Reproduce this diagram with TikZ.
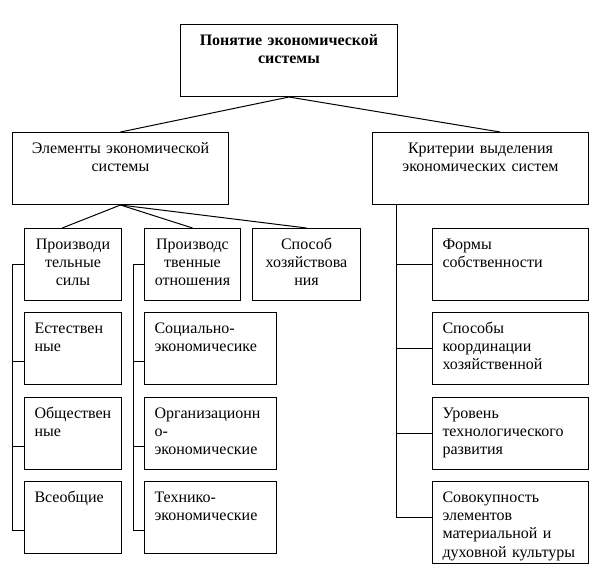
\documentclass[tikz,border=0pt]{standalone}
\usepackage{fontspec}
\setmainfont{Liberation Serif}
\usetikzlibrary{calc}

\begin{document}
\begin{tikzpicture}[x=0.75pt,y=-0.75pt,line width=0.75pt]
\tikzstyle{cell}=[rectangle, draw, anchor=north west, inner xsep=7.5pt, inner ysep=0pt,
    text height=15.5pt, text depth=38.5pt, font=\fontsize{12}{13.75}\selectfont]

\useasboundingbox (0,0) rectangle (612,565);

% top level
\node[cell, text width=147.75pt, align=center,
    font=\fontsize{12}{13.75}\selectfont\bfseries] (top) at (180,24) {Понятие экономической\\системы};
\node[cell, text width=147pt, align=center] (el) at (12,132) {Элементы экономической\\системы};
\node[cell, text width=147pt, align=center] (kr) at (372,132) {Критерии выделения\\экономических систем};

% elements
\node[cell, text width=57.75pt, align=center] (p1) at (24,228) {Производи\\тельные\\силы};
\node[cell, text width=57.75pt, align=left] (p2) at (24,312) {Естествен\\ные};
\node[cell, text width=57.75pt, align=left] (p3) at (24,397) {Обществен\\ные};
\node[cell, text width=57.75pt, align=left] (p4) at (24,481) {Всеобщие};

\node[cell, text width=57pt, align=center] (o1) at (144,228) {Производс\\твенные\\отношения};
\node[cell, text width=84pt, align=left] (o2) at (144,312) {Социально-\\экономичесике};
\node[cell, text width=84pt, align=left] (o3) at (144,397) {Организационн\\о-\\экономические};
\node[cell, text width=84pt, align=left] (o4) at (144,481) {Технико-\\экономические};

\node[cell, text width=66pt, align=center] (sp) at (252,228) {Способ\\хозяйствова\\ния};

% criteria
\node[cell, text width=102pt, align=left] (k1) at (432,228) {Формы\\собственности};
\node[cell, text width=102pt, align=left] (k2) at (432,312) {Способы\\координации\\хозяйственной};
\node[cell, text width=102pt, align=left] (k3) at (432,397) {Уровень\\технологического\\развития};
\node[cell, text width=102pt, align=left, text depth=46pt] (k4) at (432,481) {Совокупность\\элементов\\материальной и\\духовной культуры};

% tree lines
\draw (top.south) -- (el.north);
\draw (top.south) -- ($(kr.north west)!0.59!(kr.north east)$);
\draw (el.south) -- ($(p1.north west)!0.39!(p1.north east)$);
\draw (el.south) -- (o1.north);
\draw (el.south) -- (sp.north);

% brackets
\coordinate (pa) at ($(p1.west)+(-12,0)$);
\coordinate (oa) at ($(o1.west)+(-11,0)$);
\draw (p1.west) -- (pa);
\draw (o1.west) -- (oa);
\foreach \n in {2,3,4}{
    \coordinate (pt\n) at ($(p\n.north west)!0.68!(p\n.south west)$);
    \coordinate (ot\n) at ($(o\n.north west)!0.68!(o\n.south west)$);
    \draw (pt\n) -- (pt\n -| pa);
    \draw (ot\n) -- (ot\n -| oa);
}
\draw (pa) -- (pt4 -| pa);
\draw (oa) -- (ot4 -| oa);

\coordinate (ka) at ($(kr.south west)+(24,0)$);
\coordinate (kt4) at ($(k4.north west)!0.44!(k4.south west)$);
\draw (ka) -- (kt4 -| ka) -- (kt4);
\foreach \n in {1,2,3} \draw (k\n.west) -- (k\n.west -| ka);

\end{tikzpicture}
\end{document}
